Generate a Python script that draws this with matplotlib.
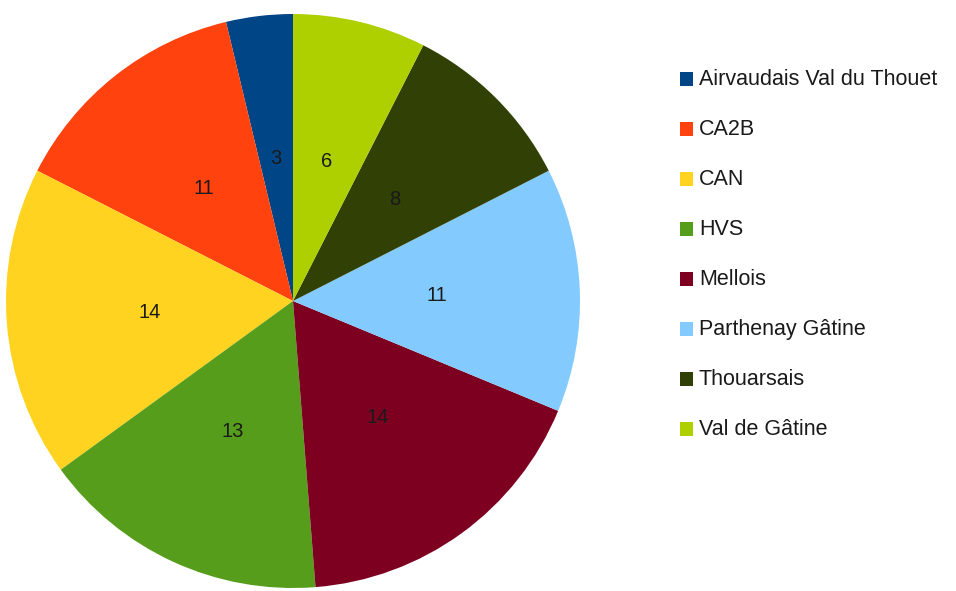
import matplotlib
matplotlib.use("Agg")
import matplotlib.pyplot as plt
from matplotlib.patches import Rectangle

plt.rcParams['font.family'] = ['Liberation Sans', 'DejaVu Sans']

labels = ["Airvaudais Val du Thouet", "CA2B", "CAN", "HVS", "Mellois",
          "Parthenay Gâtine", "Thouarsais", "Val de Gâtine"]
values = [3, 11, 14, 13, 14, 11, 8, 6]
colors = ["#004586", "#ff420e", "#ffd320", "#579d1c", "#7e0021",
          "#83caff", "#314004", "#aecf00"]

W, H = 956, 591
fig = plt.figure(figsize=(W / 100, H / 100), dpi=100)

# pie centre (293, 301) px, radius 287 px
cx, cy, r = 293, 301, 287
ax = fig.add_axes([(cx - r) / W, (H - cy - r) / H, 2 * r / W, 2 * r / H])
wedges, texts = ax.pie(values, colors=colors, startangle=90, counterclock=True,
                       radius=1, labels=[str(v) for v in values],
                       labeldistance=0.5,
                       textprops=dict(fontsize=14.5, color="#1a1a1a",
                                      ha="center", va="center"),
                       wedgeprops=dict(linewidth=0))
for t in texts:
    t.set_horizontalalignment("center")
ax.set_xlim(-1, 1)
ax.set_ylim(-1, 1)
ax.set_aspect("auto")
ax.axis("off")

# legend drawn in pixel coords
lax = fig.add_axes([0, 0, 1, 1])
lax.set_xlim(0, W)
lax.set_ylim(H, 0)
lax.axis("off")
for i, (lab, col) in enumerate(zip(labels, colors)):
    y = 79 + 50 * i
    lax.add_patch(Rectangle((680, y - 7), 13, 14, facecolor=col, edgecolor="none"))
    lax.text(699, y + 0.5, lab, fontsize=15.5, va="center", ha="left", color="#1a1a1a")

fig.savefig("out.png", dpi=100)
